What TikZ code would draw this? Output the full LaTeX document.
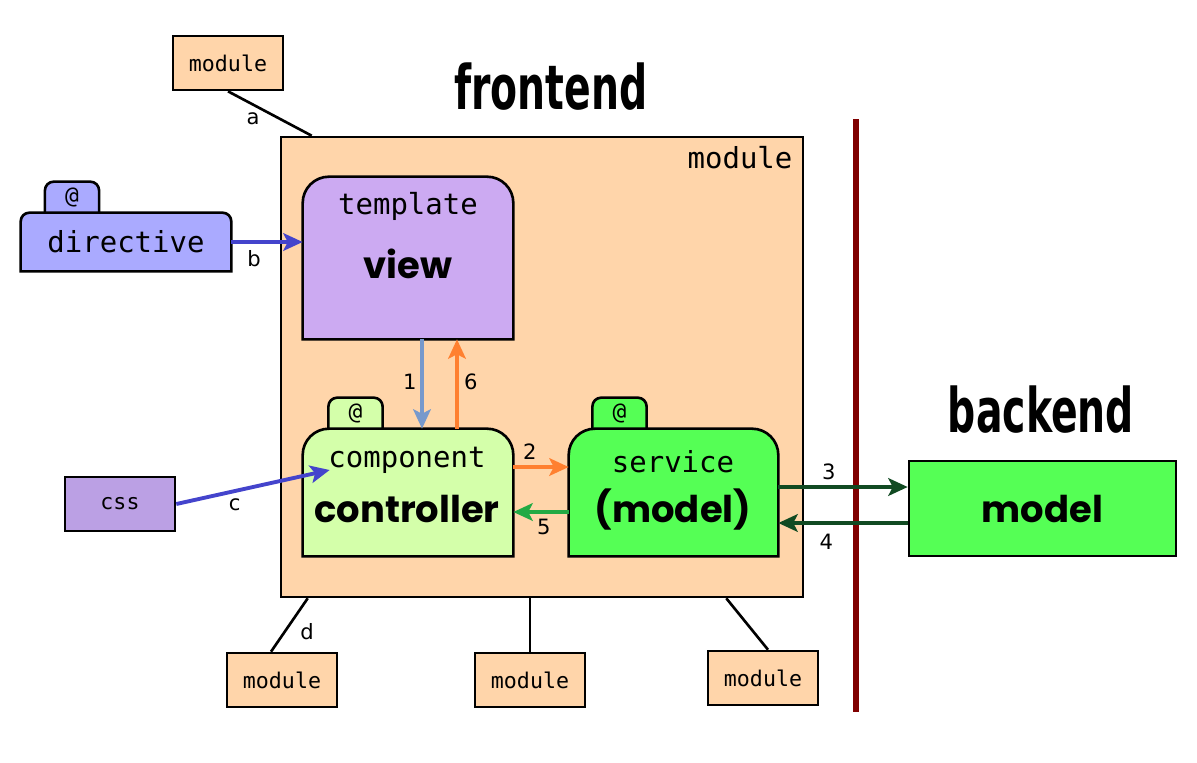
\documentclass[tikz,border=0pt]{standalone}
\usepackage{fontspec}
\setmainfont{DejaVu Sans}
\setmonofont{DejaVu Sans Mono}
\newfontfamily\comicfont{Poppins}
\usetikzlibrary{arrows.meta}

\definecolor{peach}{HTML}{FFD5AA}
\definecolor{lilac}{HTML}{CCAAF2}
\definecolor{periwinkle}{HTML}{AAAAFF}
\definecolor{lime}{HTML}{D4FFAA}
\definecolor{brightgreen}{HTML}{55FF55}
\definecolor{lavender}{HTML}{BBA0E4}
\definecolor{arrblue}{HTML}{4444CC}
\definecolor{arrsteel}{HTML}{7799CC}
\definecolor{arrorange}{HTML}{FF8030}
\definecolor{arrgreen}{HTML}{22AA44}
\definecolor{arrdark}{HTML}{114A22}
\definecolor{wallred}{HTML}{800000}

% box with rounded top corners only: name, fill, radius
\newcommand\toprounded[3]{%
  \draw[line width=1.5pt, fill=#2] (#1.south west) [rounded corners=#3]
    -- (#1.north west) -- (#1.north east) [sharp corners] -- (#1.south east) -- cycle;}

\begin{document}
\begin{tikzpicture}[x=0.02cm, y=-0.02cm,
  modbox/.style={draw, line width=1.5pt, fill=peach, minimum width=2.2cm,
                 minimum height=1.08cm, font=\ttfamily\fontsize{12.3}{14}\selectfont},
  part/.style={minimum width=4.2cm, inner sep=0},
  tab/.style={minimum width=1.07cm, minimum height=0.62cm, inner sep=0,
              font=\ttfamily\fontsize{13}{14}\selectfont},
  flow/.style={-{Stealth[length=11pt,width=10pt,inset=2.5pt]}, line width=2.2pt},
  link/.style={line width=1.5pt},
  elbl/.style={font=\fontsize{12}{14}\selectfont, inner sep=1pt},
  word/.style={font=\ttfamily\fontsize{16.5}{18}\selectfont},
  big/.style={font=\comicfont\bfseries\fontsize{21}{24}\selectfont},
  title/.style={font=\bfseries\fontsize{35}{40}\selectfont}
]
\useasboundingbox (0,0) rectangle (1197,762);

%% -- titles and wall -----------------------------------------------------
\node[title] (ftitle) at (551,87)  {\scalebox{0.64}[1]{frontend}};
\node[title] (btitle) at (1041,410) {\scalebox{0.64}[1]{backend}};
\draw[wallred, line width=3.4pt] (856,119) -- (856,712);

%% -- modules --------------------------------------------------------------
\node[modbox, minimum width=10.44cm, minimum height=9.2cm] (front) at (542,367) {};
\node[word] (frontlbl) at (740,158) {module};
\node[modbox] (modA)  at (228,63)  {module};
\node[modbox] (modBL) at (282,680) {module};
\node[modbox] (modBM) at (530,680) {module};
\node[modbox] (modBR) at (763,678) {module};

%% -- parts (outlines drawn after, text on top) ---------------------------
\node[part, minimum height=3.24cm] (view) at (408,258) {};
\node[part, minimum height=2.54cm] (comp) at (408,492.5) {};
\node[part, minimum width=4.18cm, minimum height=2.54cm] (serv) at (673.5,492.5) {};
\node[part, minimum height=1.16cm] (dir) at (126,242) {};
\node[tab] (dirtab)  at (72,197.5)  {};
\node[tab] (comptab) at (355.5,413.5) {};
\node[tab] (servtab) at (619.5,413.5) {};

\toprounded{dirtab}{periwinkle}{5pt}
\toprounded{comptab}{lime}{5pt}
\toprounded{servtab}{brightgreen}{5pt}
\toprounded{dir}{periwinkle}{5pt}
\toprounded{view}{lilac}{15pt}
\toprounded{comp}{lime}{15pt}
\toprounded{serv}{brightgreen}{15pt}

\node[tab] at (dirtab)  {@};
\node[tab] at (comptab) {@};
\node[tab] at (servtab) {@};
\node[word] at (dir) {directive};
\node[word] (viewtop) at (408,206) {template};
\node[big]  (viewbig) at (408,264) {view};
\node[word] (comptop) at (407,460) {component};
\node[big]  (compbig) at (407,509) {controller};
\node[word] (servtop) at (673,462) {service};
\node[big]  (servbig) at (673,510) {(model)};

\node[draw, line width=1.5pt, fill=brightgreen, minimum width=5.34cm,
      minimum height=1.9cm, big] (model) at (1042.5,508.5) {model};
\node[draw, line width=1.5pt, fill=lavender, minimum width=2.2cm,
      minimum height=1.08cm, font=\ttfamily\fontsize{12.3}{14}\selectfont] (css) at (120,504) {css};

%% -- links between modules ----------------------------------------------
\draw[link] (modA.south) -- ([xshift=0.64cm]front.north west)
  node[elbl, pos=0.3, below=3pt] {a};
\draw[link] ([xshift=0.56cm]front.south west) -- ([xshift=-0.22cm]modBL.north)
  node[elbl, pos=0.62, right=7pt] {d};
\draw[link] (modBM.north |- front.south) -- (modBM.north);
\draw[link] ([xshift=-1.56cm]front.south east) -- ([xshift=0.1cm]modBR.north);

%% -- flows ----------------------------------------------------------------
\draw[flow, arrblue] (dir.east) -- (dir.east -| view.west)
  node[elbl, black, pos=0.32, below=3pt] {b};
\draw[flow, arrblue] (css.east) -- ([xshift=0.54cm, yshift=0.45cm]comp.west)
  node[elbl, black, pos=0.38, below=2pt] {c};
\draw[flow, arrsteel] ([xshift=0.28cm]view.south) -- ([xshift=0.28cm]comp.north)
  node[elbl, black, pos=0.48, left=1pt] {1};
\draw[flow, arrorange] ([xshift=0.98cm]comp.north) -- ([xshift=0.98cm]view.south)
  node[elbl, black, pos=0.52, right=2pt] {6};
\draw[flow, arrorange] ([yshift=0.51cm]comp.east) -- ([yshift=0.51cm]serv.west)
  node[elbl, black, pos=0.3, above=2pt] {2};
\draw[flow, arrgreen] ([yshift=-0.39cm]serv.west) -- ([yshift=-0.39cm]comp.east)
  node[elbl, black, pos=0.45, below=2pt] {5};
\draw[flow, arrdark] ([yshift=0.11cm]serv.east) -- ([yshift=0.11cm]serv.east -| model.west)
  node[elbl, black, pos=0.39, above=2pt] {3};
\draw[flow, arrdark] ([yshift=-0.61cm]serv.east -| model.west) -- ([yshift=-0.61cm]serv.east)
  node[elbl, black, pos=0.63, below=4pt] {4};

\end{tikzpicture}
\end{document}
